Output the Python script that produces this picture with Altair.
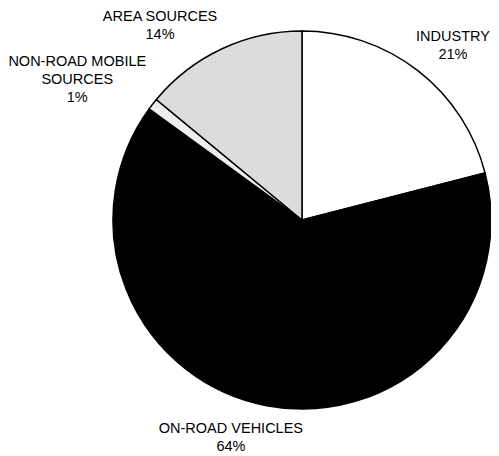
import altair as alt
import pandas as pd

categories = ["INDUSTRY", "ON-ROAD VEHICLES", "NON-ROAD MOBILE SOURCES", "AREA SOURCES"]
values = [21, 64, 1, 14]
label_texts = ["INDUSTRY\n21%", "ON-ROAD VEHICLES\n64%", "NON-ROAD MOBILE\nSOURCES\n1%", "AREA SOURCES\n14%"]
colors = ["#ffffff", "#000000", "#eeeeee", "#dcdcdc"]

df = pd.DataFrame({"cat": categories, "value": values, "label": label_texts,
                   "idx": list(range(len(categories)))})

CX, CY, R = 294, 212, 189

base = alt.Chart(df).encode(
    theta=alt.Theta("value:Q", stack=True),
    order=alt.Order("idx:Q"),
    x=alt.value(CX), y=alt.value(CY),
)

pie = base.mark_arc(outerRadius=R, stroke="#000000", strokeWidth=1.5).encode(
    color=alt.Color("cat:N", scale=alt.Scale(domain=categories, range=colors), legend=None)
)

offsets = {
    "INDUSTRY": (10, -1),
    "ON-ROAD VEHICLES": (-28, -17),
    "NON-ROAD MOBILE SOURCES": (-43, -17),
    "AREA SOURCES": (-44, 5),
}

layers = [pie]
for c in categories:
    dx, dy = offsets[c]
    layers.append(
        base.mark_text(radius=230, dx=dx, dy=dy, font="Liberation Sans", fontSize=14.5,
                       lineBreak="\n", lineHeight=18, align="center", baseline="middle",
                       color="#000000")
        .encode(text="label:N", opacity=alt.condition(alt.datum.cat == c, alt.value(1), alt.value(0)))
    )

chart = alt.layer(*layers).properties(
    width=483, height=448, autosize=alt.AutoSizeParams(type="none"), padding=0
).configure_view(stroke=None)

chart.save("out.html", embed_options={"renderer": "svg", "actions": False})
